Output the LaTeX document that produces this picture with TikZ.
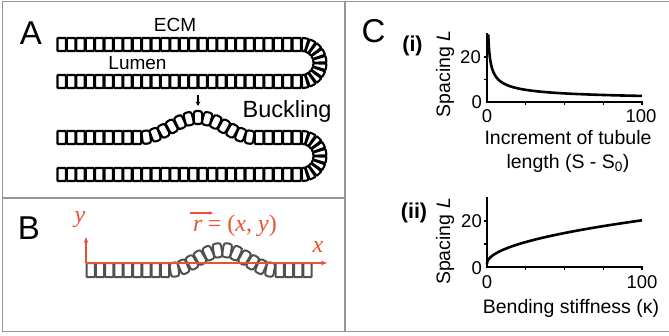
\documentclass[tikz,border=0pt]{standalone}
\usepackage{fontspec}
\setmainfont{Liberation Sans}
\newfontfamily\vecserif{Liberation Serif}
\usetikzlibrary{decorations.markings,arrows.meta}
\definecolor{panelframe}{RGB}{150,150,150}
\definecolor{axisred}{RGB}{232,82,52}
\definecolor{ghostcell}{RGB}{80,80,80}
\begin{document}
\begin{tikzpicture}[x=1pt,y=1pt,
  cell/.style={draw=black,line width=2.1pt,rounded corners=0.7pt},
  bcell/.style={draw=black,line width=2.1pt,rounded corners=2.6pt},
  gcell/.style={draw=ghostcell,line width=2pt,rounded corners=0.7pt},
  gbcell/.style={draw=ghostcell,line width=2pt,rounded corners=2.6pt},
  frame/.style={draw=panelframe,line width=1.3pt},
  panel/.style={font=\fontsize{33}{33}\selectfont,inner sep=0pt},
  lbl/.style={font=\fontsize{19}{19}\selectfont,inner sep=0pt},
  big/.style={font=\fontsize{23.5}{24}\selectfont,inner sep=0pt},
  axlbl/.style={font=\fontsize{19.5}{20}\selectfont,inner sep=0pt},
  ticklbl/.style={font=\fontsize{18.5}{19}\selectfont,inner sep=0pt},
  sub/.style={font=\bfseries\fontsize{21.5}{22}\selectfont,inner sep=0pt},
  axis/.style={line width=2pt,line cap=rect},
  curve/.style={line width=2.6pt},
  redaxis/.style={draw=axisred,line width=1.6pt,-{Stealth[length=6pt,width=4.5pt]}},
  redtxt/.style={text=axisred,font=\vecserif\fontsize{24}{24}\selectfont,inner sep=0pt},
  reditalic/.style={redtxt,font=\vecserif\itshape\fontsize{24}{24}\selectfont}
]
\useasboundingbox (0,0) rectangle (669,335);

% panel frames
\draw[frame] (670,333.8) -- (2.5,333.8) -- (2.5,3.5) -- (670,3.5);
\draw[frame] (345,3.5) -- (345,333.8);
\draw[frame] (2.5,137) -- (345,137);

% ---------- A: straight tubule ----------
\foreach \i in {0,...,25} {
  \draw[cell] ({57.5+9.4*\i},284) rectangle ({65.9+9.4*\i},297);
  \draw[cell] ({57.5+9.4*\i},247) rectangle ({65.9+9.4*\i},260);
}
\begin{scope}[shift={(301.4,272)}]
  \foreach \k in {0,...,9} {
    \pgfmathsetmacro\a{90-18*\k-1.5}
    \pgfmathsetmacro\b{90-18*(\k+1)+1.5}
    \draw[cell] (\a:12) arc[start angle=\a,end angle=\b,radius=12]
      -- (\b:25) arc[start angle=\b,end angle=\a,radius=25] -- cycle;
  }
\end{scope}

% ---------- A: buckled tubule ----------
\foreach \i in {0,...,25}
  \draw[cell] ({57.5+9.4*\i},154) rectangle ({65.9+9.4*\i},167);
\foreach \i in {0,...,8}
  \draw[cell] ({57.5+9.4*\i},191) rectangle ({65.9+9.4*\i},204);
\foreach \i in {0,...,4}
  \draw[cell] ({254.9+9.4*\i},191) rectangle ({263.3+9.4*\i},204);
\path[decorate,decoration={markings,
    mark=between positions 4.65pt and 1 step 9.3pt with
      {\draw[bcell] (-4.2pt,-6.5pt) rectangle (4.2pt,6.5pt);}}]
  plot[domain=0:112.8,samples=90] ({141.6+\x},{197.5+10*(1-cos(\x/112.8*360))});
\begin{scope}[shift={(301.4,179)}]
  \foreach \k in {0,...,9} {
    \pgfmathsetmacro\a{90-18*\k-1.5}
    \pgfmathsetmacro\b{90-18*(\k+1)+1.5}
    \draw[cell] (\a:12) arc[start angle=\a,end angle=\b,radius=12]
      -- (\b:25) arc[start angle=\b,end angle=\a,radius=25] -- cycle;
  }
\end{scope}

\coordinate (pushtop) at (198,240);
\coordinate (pushtip) at (198,229);
\draw[line width=1.4pt,-{Stealth[length=4.5pt,width=4.5pt]}] (pushtop) -- (pushtip);

\node[panel] (labA) at (31,302) {A};
\node[lbl] (ecm) at (175,310) {ECM};
\node[lbl] (lumen) at (137.5,271.5) {Lumen};
\node[big] (buck) at (287,224) {Buckling};

% ---------- B: coordinates of the buckled strip ----------
\foreach \i in {0,...,8}
  \draw[gcell] ({86.5+9.3*\i},58) rectangle ({94.8+9.3*\i},72);
\foreach \i in {0,...,3}
  \draw[gcell] ({275.5+9.3*\i},58) rectangle ({283.8+9.3*\i},72);
\path[decorate,decoration={markings,
    mark=between positions 4.75pt and 1 step 9.5pt with
      {\draw[gbcell] (-4.2pt,-7pt) rectangle (4.2pt,7pt);}}]
  plot[domain=0:105.3,samples=90] ({169.7+\x},{65+10*(1-cos(\x/105.3*360))});

\coordinate (O) at (86,72);
\coordinate (yend) at (86,98);
\coordinate (xend) at (327,72);
\draw[redaxis] (O) -- (yend);
\draw[redaxis] (O) -- (xend);
\node[reditalic] (ylab) at (80,115) {y};
\node[reditalic] (xlab) at (318,88) {x};
\node[reditalic,anchor=base west] (rsym) at (193,103) {r};
\node[redtxt,anchor=base west] (req) at ([xshift=5pt]rsym.base east) {= (\textit{x}, \textit{y})};
\coordinate (rarrowL) at (190,122);
\coordinate (rarrowR) at (213,122);
\draw[axisred,line width=1.1pt,-{Stealth[length=4pt,width=3.5pt]}] (rarrowL) -- (rarrowR);
\node[panel] (labB) at (29,107) {B};

% ---------- C ----------
\node[panel] (labC) at (373.5,304) {C};

% (i) spacing vs. increment of length
\node[sub] (subi) at (412.5,289) {(i)};
\draw[axis] (487,300.5) -- (487,233) -- (642,233);
\foreach \t in {1,2,3,4} \draw[line width=1.2pt] ({487+38.75*\t},233) -- ({487+38.75*\t},230);
\foreach \t in {1,2} \draw[line width=1.2pt] (487,{233+22.5*\t}) -- (483.5,{233+22.5*\t});
\draw[curve] plot[domain=0.9:10,samples=120] ({487+1.55*\x*\x},{233+2.25*27/\x});
\node[ticklbl,anchor=east] (ia20) at (481,278) {20};
\node[ticklbl,anchor=east] (ia0) at (482,233) {0};
\node[ticklbl] (ib0) at (487,218.5) {0};
\node[ticklbl] (ib100) at (641,218.5) {100};
\node[axlbl,rotate=90] (iyl) at (445,261) {Spacing \textit{L}};
\node[axlbl] (ixl1) at (568,197) {Increment of tubule};
\node[axlbl] (ixl2) at (568,172) {length (S - S\textsubscript{0})};

% (ii) spacing vs. bending stiffness
\node[sub] (subii) at (414,122) {(ii)};
\draw[axis] (487,137) -- (487,68) -- (642,68);
\foreach \t in {1,2,3,4} \draw[line width=1.2pt] ({487+38.75*\t},68) -- ({487+38.75*\t},65);
\foreach \t in {1,2} \draw[line width=1.2pt] (487,{68+23*\t}) -- (483.5,{68+23*\t});
\draw[curve] plot[domain=0:10,samples=80] ({487+1.55*\x*\x},{68+2.3*(1.4+1.89*\x)});
\node[ticklbl,anchor=east] (iia20) at (482,114) {20};
\node[ticklbl,anchor=east] (iia0) at (482,67) {0};
\node[ticklbl] (iib0) at (487,53) {0};
\node[ticklbl] (iib100) at (642,53) {100};
\node[axlbl,rotate=90] (iiyl) at (445,93.5) {Spacing \textit{L}};
\node[axlbl] (iixl) at (571,27) {Bending stiffness (κ)};
\end{tikzpicture}
\end{document}
